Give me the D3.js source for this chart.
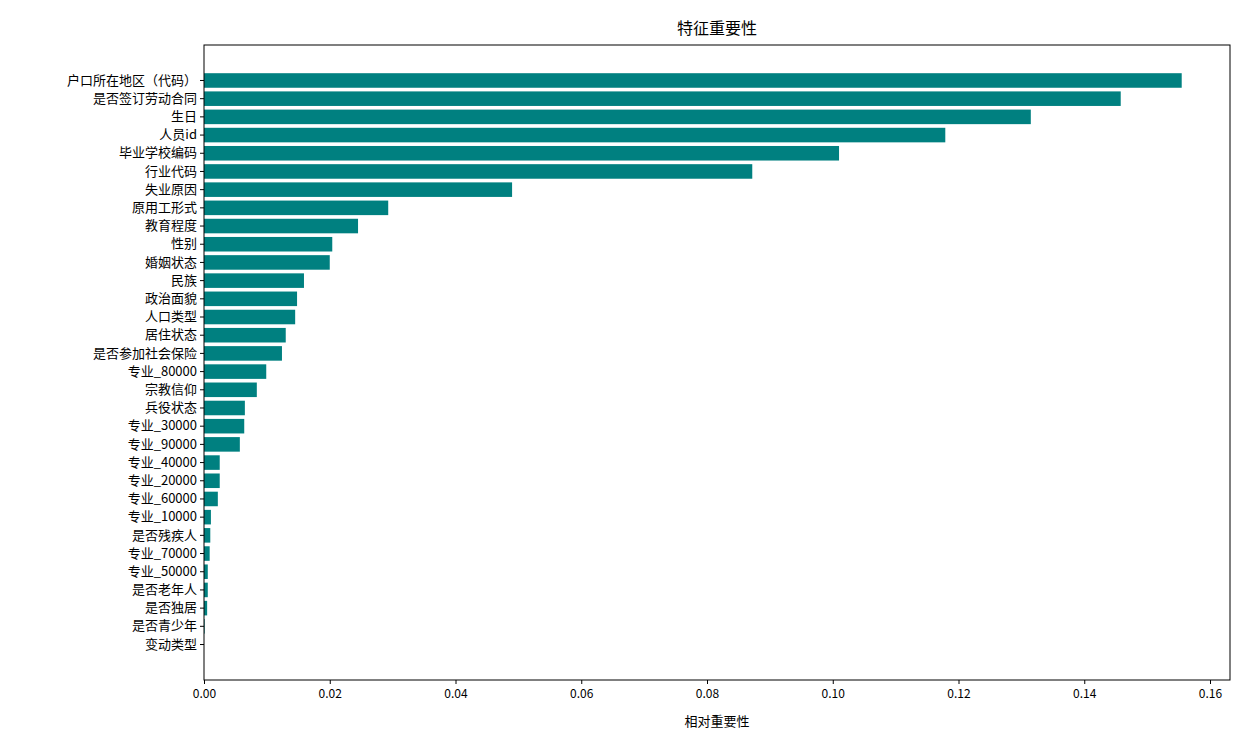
<!DOCTYPE html>
<html><head><meta charset="utf-8">
<script src="https://cdn.jsdelivr.net/npm/d3@7"></script>
<style>body{margin:0;background:#fff;font-family:"Noto Sans CJK SC",sans-serif;}</style>
</head><body><div id="chart"></div>
<script>
var features = ['户口所在地区（代码）','是否签订劳动合同','生日','人员id','毕业学校编码','行业代码','失业原因','原用工形式','教育程度','性别','婚姻状态','民族','政治面貌','人口类型','居住状态','是否参加社会保险','专业_80000','宗教信仰','兵役状态','专业_30000','专业_90000','专业_40000','专业_20000','专业_60000','专业_10000','是否残疾人','专业_70000','专业_50000','是否老年人','是否独居','是否青少年','变动类型'];
var importance = [0.1555,0.1458,0.1315,0.1179,0.1010,0.0872,0.0490,0.0293,0.0245,0.0204,0.0200,0.0159,0.0148,0.0145,0.0130,0.0124,0.0099,0.0084,0.0065,0.0064,0.0057,0.0025,0.0025,0.0022,0.0011,0.0010,0.0009,0.0006,0.0006,0.0005,0.0001,0];
var xTicks = [0,0.02,0.04,0.06,0.08,0.10,0.12,0.14,0.16];

var width = 1246, height = 745,
    plotLeft = 204, plotRight = 1230, plotTop = 45, plotBottom = 680;

var svg = d3.select('#chart').append('svg')
    .attr('width', width).attr('height', height);

var x = d3.scaleLinear().domain([0, 0.16]).range([plotLeft, 1210]);
var y = d3.scaleBand().domain(features).range([plotTop, plotBottom])
    .paddingInner(0.2).paddingOuter(1.55);

svg.selectAll('rect.bar')
    .data(features)
    .enter().append('rect')
    .attr('class', 'bar')
    .attr('x', x(0))
    .attr('y', function(d) { return y(d); })
    .attr('height', y.bandwidth())
    .attr('width', function(d, i) { return x(importance[i]) - x(0); })
    .attr('fill', '#008080');

// frame
svg.append('rect')
    .attr('x', plotLeft).attr('y', plotTop)
    .attr('width', plotRight - plotLeft).attr('height', plotBottom - plotTop)
    .attr('fill', 'none').attr('stroke', '#000').attr('stroke-width', 1);

var xAxis = svg.append('g')
    .attr('transform', 'translate(0,' + plotBottom + ')')
    .call(d3.axisBottom(x).tickValues(xTicks).tickSize(4).tickSizeOuter(0)
        .tickFormat(function(d) { return d3.format('.2f')(d); }));
xAxis.select('.domain').remove();
xAxis.selectAll('text').attr('font-size', 12).attr('font-family', '"Noto Sans CJK SC",sans-serif').attr('dy', '0.9em');

var yAxis = svg.append('g')
    .attr('transform', 'translate(' + plotLeft + ',0)')
    .call(d3.axisLeft(y).tickSize(4));
yAxis.select('.domain').remove();
yAxis.selectAll('text').attr('font-size', 13).attr('fill', '#000').attr('font-family', '"Noto Sans CJK SC",sans-serif');

svg.append('text')
    .attr('x', (plotLeft + plotRight) / 2).attr('y', 34)
    .attr('text-anchor', 'middle').attr('font-size', 16)
    .text('特征重要性');

svg.append('text')
    .attr('x', (plotLeft + plotRight) / 2).attr('y', 726)
    .attr('text-anchor', 'middle').attr('font-size', 13)
    .text('相对重要性');
</script>
</body></html>
